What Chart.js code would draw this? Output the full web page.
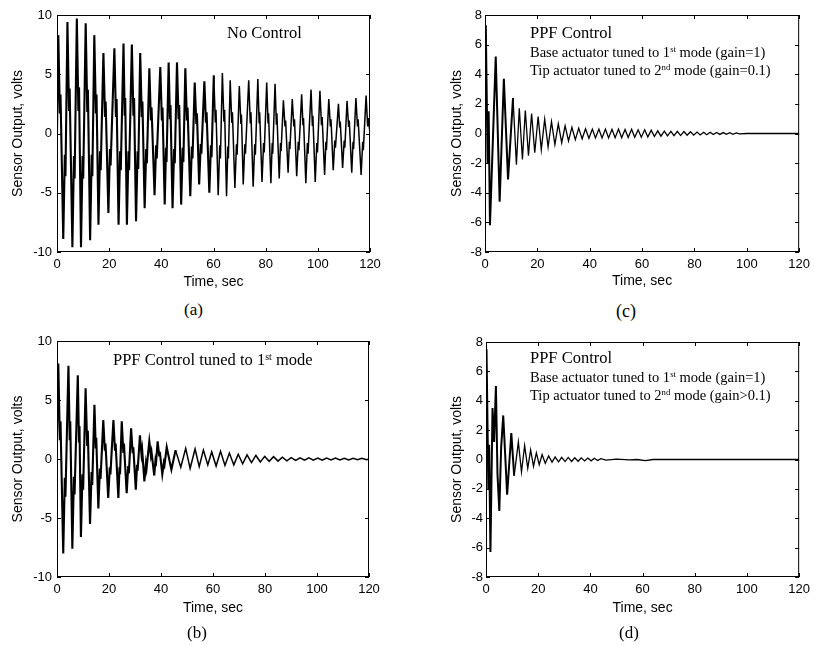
<!DOCTYPE html>
<html>
<head>
<meta charset="utf-8">
<script src="https://cdn.jsdelivr.net/npm/chart.js@4.4.1/dist/chart.umd.min.js"></script>
<style>
  body { margin: 0; background: #fff; }
  #wrap { position: relative; width: 815px; height: 645px; overflow: hidden; }
  canvas { position: absolute; }
  .note { position: absolute; font-family: "Liberation Serif", "Times New Roman", serif; color: #000; white-space: nowrap; line-height: 1; }
  .note sup { font-size: 0.6em; line-height: 0; vertical-align: 0.55em; }
</style>
</head>
<body>
<div id="wrap">
  <canvas id="chartA" width="410" height="300" style="left:0;top:0"></canvas>
  <canvas id="chartB" width="410" height="300" style="left:0;top:326px"></canvas>
  <canvas id="chartC" width="395" height="300" style="left:420px;top:0"></canvas>
  <canvas id="chartD" width="395" height="300" style="left:420px;top:327px"></canvas>

  <div class="note" style="left:227px;top:25px;font-size:16.5px">No Control</div>
  <div class="note" style="left:113px;top:352px;font-size:16.5px">PPF Control tuned to 1<sup>st</sup> mode</div>

  <div class="note" style="left:530px;top:25px;font-size:16.5px">PPF Control</div>
  <div class="note" style="left:530px;top:45px;font-size:14.5px">Base actuator tuned to 1<sup>st</sup> mode (gain=1)</div>
  <div class="note" style="left:530px;top:63px;font-size:14.5px">Tip actuator tuned to 2<sup>nd</sup> mode (gain=0.1)</div>

  <div class="note" style="left:530px;top:350px;font-size:16.5px">PPF Control</div>
  <div class="note" style="left:530px;top:370px;font-size:14.5px">Base actuator tuned to 1<sup>st</sup> mode (gain=1)</div>
  <div class="note" style="left:530px;top:388px;font-size:14.5px">Tip actuator tuned to 2<sup>nd</sup> mode (gain&gt;0.1)</div>

  <div class="note" style="left:184px;top:301px;font-size:17px">(a)</div>
  <div class="note" style="left:187px;top:624px;font-size:17px">(b)</div>
  <div class="note" style="left:616px;top:302px;font-size:18px">(c)</div>
  <div class="note" style="left:619px;top:624px;font-size:17px">(d)</div>
</div>
<script>
// (a) no control: peaks and troughs
const aTime = [0, 0.5, 2.4, 4.0, 5.9, 7.6, 9.2, 11.0, 12.7, 14.3, 15.9, 17.8, 19.7, 22.0, 23.6, 25.5, 26.8, 28.7, 30.3, 31.9,
  33.6, 35.4, 37.4, 39.6, 41.3, 42.8, 44.3, 46.0, 47.6, 49.2, 51.1, 52.8, 54.5, 56.5, 58.4, 60.1, 61.8, 63.4, 65.0, 66.4,
  68.2, 69.9, 71.4, 73.5, 75.2, 77.0, 78.6, 80.4, 82.0, 83.6, 85.2, 86.8, 88.6, 90.2, 91.9, 93.8, 95.4, 97.4, 99.0, 100.8,
  102.6, 104.2, 105.9, 107.9, 109.5, 111.2, 113.0, 114.6, 116.6, 118.5, 120];
const aVolt = [0, 8.3, -8.9, 9.4, -9.6, 9.7, -9.6, 9.3, -9.0, 8.3, -7.7, 6.8, -6.7, 7.2, -7.7, 7.6, -7.7, 7.5, -7.4, 6.8,
  -6.3, 5.5, -5.2, 5.6, -6.0, 6.0, -6.3, 6.0, -6.0, 5.5, -5.3, 4.3, -4.3, 4.4, -5.0, 4.9, -5.2, 5.1, -5.3, 4.5,
  -4.6, 4.0, -4.3, 4.5, -4.5, 4.6, -4.1, 4.3, -4.2, 4.2, -3.8, 2.8, -3.3, 2.9, -3.6, 3.3, -4.2, 3.7, -4.1, 3.6,
  -3.5, 2.9, -3.1, 2.5, -2.9, 2.75, -3.3, 3.0, -3.5, 3.2, 0];
// (a) small second-mode kinks between the swings
const aKneeTime = [1.1, 1.35, 3.0, 3.25, 4.6, 4.85, 6.5, 6.75, 8.2, 8.45, 9.8, 10.05, 11.6, 11.85, 13.3, 13.55, 14.9, 15.15,
  16.5, 16.75, 18.4, 18.65, 20.3, 20.55, 22.6, 22.85, 24.2, 24.45, 25.95, 26.15, 27.4, 27.65, 29.3, 29.55, 30.9, 31.15,
  32.5, 32.75, 34.2, 34.45, 36.0, 36.25, 38.0, 38.25, 40.2, 40.45, 41.8, 42.0, 43.3, 43.5, 44.9, 45.15, 46.6, 46.85,
  48.2, 48.45, 49.8, 50.05, 51.7, 51.95, 53.4, 53.65, 55.1, 55.35, 57.1, 57.35, 59.0, 59.25, 60.7, 60.95, 62.4, 62.65,
  64.0, 64.25, 65.5, 65.7, 67.0, 67.25, 68.8, 69.05, 70.5, 70.7, 72.0, 72.25, 74.1, 74.35, 75.8, 76.05, 77.5, 77.7,
  79.2, 79.45, 80.9, 81.1, 82.5, 82.7, 84.1, 84.3, 85.7, 85.9, 87.4, 87.65, 89.1, 89.3, 90.8, 91.05, 92.5, 92.75,
  94.3, 94.5, 96.0, 96.25, 97.9, 98.1, 99.6, 99.85, 101.4, 101.65, 103.1, 103.3, 104.8, 105.05, 106.5, 106.75,
  108.4, 108.6, 110.1, 110.35, 111.8, 112.05, 113.5, 113.7, 115.2, 115.45, 117.2, 117.45, 119.1, 119.35];
const aKneeVolt = [1.7, 3.3, -1.8, -3.6, 1.9, 3.8, -1.9, -3.8, 1.9, 3.9, -1.9, -3.8, 1.9, 3.7, -1.8, -3.6, 1.7, 3.3,
  -1.5, -3.1, 1.4, 2.7, -1.3, -2.7, 1.4, 2.9, -1.5, -3.1, 1.5, 3.0, -1.5, -3.1, 1.5, 3.0, -1.5, -3.0,
  1.4, 2.7, -1.3, -2.5, 1.1, 2.2, -1.0, -2.1, 1.1, 2.2, -1.2, -2.4, 1.2, 2.4, -1.3, -2.5, 1.2, 2.4,
  -1.2, -2.4, 1.1, 2.2, -1.1, -2.1, 0.9, 1.7, -0.9, -1.7, 0.9, 1.8, -1.0, -2.0, 1.0, 2.0, -1.0, -2.1,
  1.0, 2.0, -1.1, -2.1, 0.9, 1.8, -0.9, -1.8, 0.8, 1.6, -0.9, -1.7, 0.9, 1.8, -0.9, -1.8, 0.9, 1.8,
  -0.8, -1.6, 0.9, 1.7, -0.8, -1.7, 0.8, 1.7, -0.8, -1.5, 0.6, 1.1, -0.7, -1.3, 0.6, 1.2, -0.7, -1.4,
  0.7, 1.3, -0.8, -1.7, 0.7, 1.5, -0.8, -1.6, 0.7, 1.4, -0.7, -1.4, 0.6, 1.2, -0.6, -1.2,
  0.5, 1.0, -0.6, -1.2, 0.55, 1.1, -0.7, -1.3, 0.6, 1.2, -0.7, -1.4, 0.6, 1.3];

// (b) PPF tuned to 1st mode
const bTime = [0, 0.5, 2.4, 4.4, 5.9, 8.0, 9.2, 11.0, 12.7, 14.4, 15.9, 17.8, 19.7, 21.7, 23.6, 24.9, 26.8, 28.5, 30.3, 31.9,
  33.6, 35.5, 37.4, 38.7, 40.5, 42.2, 44.0, 45.6, 47.6, 49.5, 51.2, 53.1, 54.7, 56.3, 58.0, 59.5, 61.2, 62.9, 64.6, 66.3,
  68.0, 69.7, 71.4, 73.1, 74.8, 76.5, 78.2, 79.9, 81.6, 83.3, 85.0, 86.7, 88.4, 90.1, 91.8, 93.5, 95.2, 96.9, 98.6, 100.3,
  102.0, 103.7, 105.4, 107.1, 108.8, 110.5, 112.2, 113.9, 115.6, 117.3, 119.0, 120];
const bVolt = [2.0, 8.1, -8.0, 7.9, -7.6, 7.1, -6.6, 6.0, -5.5, 4.6, -4.2, 3.3, -3.3, 3.3, -3.3, 3.2, -2.9, 2.6, -2.6, 2.0,
  -1.9, 1.5, -1.4, 1.5, -1.3, 1.0, -0.9, 0.75, -0.7, 0.9, -0.8, 0.85, -0.65, 0.75, -0.5, 0.6, -0.6, 0.65, -0.55, 0.5,
  -0.5, 0.4, -0.4, 0.35, -0.3, 0.3, -0.25, 0.22, -0.2, 0.2, -0.18, 0.15, -0.15, 0.12, -0.12, 0.1, -0.1, 0.1, -0.1, 0.08,
  -0.1, 0.08, -0.08, 0.08, -0.08, 0.06, -0.08, 0.06, -0.06, 0.06, -0.06, 0];
const bKneeTime = [1.1, 1.35, 3.0, 3.25, 4.9, 5.1, 6.5, 6.75, 8.45, 8.65, 9.8, 10.05, 11.6, 11.85, 13.3, 13.55, 14.9, 15.1,
  16.5, 16.75, 18.4, 18.65, 20.3, 20.55, 22.3, 22.55, 24.05, 24.25, 25.5, 25.75, 27.4, 27.65, 29.1, 29.35, 30.8, 31.0,
  32.5, 32.75, 34.2, 34.45, 36.1, 36.35, 37.8, 38.0, 39.3, 39.55, 41.1, 41.35];
const bKneeVolt = [1.6, 3.2, -1.6, -3.2, 1.6, 3.2, -1.5, -3.0, 1.4, 2.8, -1.3, -2.6, 1.2, 2.4, -1.1, -2.2, 0.9, 1.8,
  -0.8, -1.7, 0.7, 1.3, -0.7, -1.3, 0.7, 1.3, -0.7, -1.3, 0.6, 1.3, -0.6, -1.2, 0.5, 1.0, -0.5, -1.0,
  0.4, 0.8, -0.4, -0.8, 0.3, 0.6, -0.3, -0.6, 0.3, 0.6, -0.3, -0.5];

// (c) base 1st mode gain=1, tip 2nd mode gain=0.1
const cTime = [0, 0.3, 1.0, 1.4, 1.9, 3.0, 4.1, 5.6, 7.2, 8.8, 10.7, 12.0, 13.1, 14.3, 15.4, 16.6, 17.8, 19.0, 20.3, 21.5,
  22.8, 24.1, 25.4, 26.7, 28.0, 29.3, 30.6, 31.9, 33.2, 34.5, 35.8, 37.1, 38.4, 39.7, 41.0, 42.2, 43.5, 44.7, 46.0, 47.2,
  48.5, 49.7, 51.0, 52.2, 53.5, 54.7, 56.0, 57.2, 58.5, 59.7, 61.0, 62.2, 63.5, 64.7, 66.0, 67.2, 68.5, 69.7, 71.0, 72.2,
  73.5, 74.7, 76.0, 77.2, 78.5, 79.7, 81.0, 82.2, 83.5, 84.7, 86.0, 87.2, 88.5, 89.7, 91.0, 92.2, 93.5, 94.7, 96.0, 97.2,
  100, 120];
const cVolt = [3.0, 7.3, -2.0, 1.5, -6.2, -0.5, 5.2, -4.6, 3.7, -3.1, 2.4, -2.1, 1.7, -1.75, 1.55, -1.5, 1.35, -1.3, 1.15, -1.1,
  0.97, -0.9, 0.8, -0.75, 0.65, -0.62, 0.52, -0.5, 0.42, -0.42, 0.36, -0.36, 0.32, -0.32, 0.3, -0.3, 0.3, -0.3, 0.3, -0.3,
  0.28, -0.28, 0.3, -0.28, 0.27, -0.27, 0.28, -0.26, 0.25, -0.25, 0.25, -0.23, 0.22, -0.2, 0.18, -0.18, 0.16, -0.16, 0.15, -0.15,
  0.14, -0.14, 0.13, -0.12, 0.12, -0.11, 0.1, -0.1, 0.08, -0.08, 0.08, -0.07, 0.07, -0.06, 0.06, -0.06, 0.05, -0.05, 0.04, -0.03,
  0, 0];

// (d) base 1st mode gain=1, tip 2nd mode gain>0.1
const dTime = [0, 0.2, 0.9, 1.2, 1.7, 2.5, 3.1, 3.8, 4.4, 5.1, 5.8, 6.6, 7.3, 8.1, 9.7, 10.8, 12.4, 13.6, 14.8, 16.0,
  17.1, 18.2, 19.3, 20.4, 21.5, 22.7, 24.0, 25.3, 26.5, 27.8, 29.0, 30.3, 31.5, 32.8, 34.0, 35.3, 36.5, 37.8, 39.0, 40.3,
  41.5, 42.8, 44.0, 46.0, 50.0, 55.0, 58.0, 61.0, 64.0, 120];
const dVolt = [2.0, 7.5, -2.0, 1.0, -6.3, 3.5, 1.2, 5.0, -1.0, -3.5, 0.8, 3.0, 0.5, -2.4, 1.8, -1.1, 1.2, -0.85, 0.95, -0.6,
  0.65, -0.46, 0.45, -0.35, 0.33, -0.26, 0.24, -0.18, 0.17, -0.16, 0.15, -0.14, 0.14, -0.13, 0.12, -0.12, 0.11, -0.1, 0.1, -0.09,
  0.08, -0.07, 0.06, -0.04, 0.02, -0.02, 0, -0.08, 0, 0];

const xTicks = [0, 20, 40, 60, 80, 100, 120];
const ticks10 = [-10, -5, 0, 5, 10];
const ticks8 = [-8, -6, -4, -2, 0, 2, 4, 6, 8];

const sans = { family: '"Liberation Sans", Arial, sans-serif', size: 13 };
const titleFont = { family: '"Liberation Sans", Arial, sans-serif', size: 14 };

const toPoints = (times, volts) => times.map((t, i) => ({ x: t, y: volts[i] }));

// main swings plus the kinks, in time order
const mergeSeries = (times, volts, kTimes = [], kVolts = []) =>
  toPoints(times, volts).concat(toPoints(kTimes, kVolts)).sort((p, q) => p.x - q.x);

// box round the plot with inward tick marks on all four sides
const framePlugin = {
  id: 'frame',
  afterDatasetsDraw(chart) {
    const { ctx, chartArea: { left, top, right, bottom }, scales: { x, y } } = chart;
    ctx.save();
    ctx.strokeStyle = '#000';
    ctx.lineWidth = 1;
    ctx.strokeRect(left + 0.5, top + 0.5, right - left - 1, bottom - top - 1);
    ctx.beginPath();
    x.ticks.forEach((t) => {
      const px = Math.round(x.getPixelForValue(t.value)) + 0.5;
      ctx.moveTo(px, bottom); ctx.lineTo(px, bottom - 4);
      ctx.moveTo(px, top); ctx.lineTo(px, top + 4);
    });
    y.ticks.forEach((t) => {
      const py = Math.round(y.getPixelForValue(t.value)) + 0.5;
      ctx.moveTo(left, py); ctx.lineTo(left + 4, py);
      ctx.moveTo(right, py); ctx.lineTo(right - 4, py);
    });
    ctx.stroke();
    ctx.restore();
  },
};

const drawPanel = (id, points, opt) => {
  new Chart(document.getElementById(id), {
    type: 'line',
    data: {
      datasets: [{
        data: points,
        borderColor: '#000',
        borderWidth: opt.lineWidth,
        pointRadius: 0,
        tension: 0,
        fill: false,
        // early part of the record is drawn heavier, as in the scan
        segment: { borderWidth: c => (c.p0.parsed.x < opt.thickUntil ? opt.thickWidth : opt.lineWidth) },
      }],
    },
    options: {
      responsive: false,
      animation: false,
      layout: { padding: { left: 0, top: opt.top, right: opt.right, bottom: opt.bottom } },
      plugins: { legend: { display: false }, tooltip: { enabled: false } },
      scales: {
        x: {
          type: 'linear',
          min: 0,
          max: 120,
          afterBuildTicks: (scale) => { scale.ticks = xTicks.map(v => ({ value: v })); },
          ticks: { padding: 5, font: sans, color: '#000', maxRotation: 0 },
          grid: { display: false, drawTicks: false },
          border: { display: false },
          title: { display: true, text: 'Time, sec', font: titleFont, color: '#000', padding: { top: 0, bottom: opt.xTitlePad } },
          afterFit: (scale) => { scale.height = 40; },
        },
        y: {
          type: 'linear',
          min: opt.yMin,
          max: opt.yMax,
          afterBuildTicks: (scale) => { scale.ticks = opt.yTicks.map(v => ({ value: v })); },
          ticks: { padding: opt.yTickPad, font: sans, color: '#000' },
          grid: { display: false, drawTicks: false },
          border: { display: false },
          title: { display: true, text: 'Sensor Output, volts', font: titleFont, color: '#000', padding: { top: opt.yTitlePad, bottom: 0 } },
          afterFit: (scale) => { scale.width = opt.yWidth; },
        },
      },
    },
    plugins: [framePlugin],
  });
};

drawPanel('chartA', mergeSeries(aTime, aVolt, aKneeTime, aKneeVolt), {
  lineWidth: 1.5, thickWidth: 2.1, thickUntil: 60, top: 15, right: 40, bottom: 8,
  yWidth: 57, yTitlePad: 9.6, yTickPad: 5, xTitlePad: 1, yMin: -10, yMax: 10, yTicks: ticks10,
});
drawPanel('chartB', mergeSeries(bTime, bVolt, bKneeTime, bKneeVolt), {
  lineWidth: 1.5, thickWidth: 2.1, thickUntil: 45, top: 15, right: 41, bottom: 9,
  yWidth: 57, yTitlePad: 9.6, yTickPad: 5, xTitlePad: 0, yMin: -10, yMax: 10, yTicks: ticks10,
});
drawPanel('chartC', mergeSeries(cTime, cVolt), {
  lineWidth: 1.3, thickWidth: 2, thickUntil: 10, top: 15, right: 15, bottom: 8,
  yWidth: 65, yTitlePad: 28.6, yTickPad: 3, xTitlePad: 2.6, yMin: -8, yMax: 8, yTicks: ticks8,
});
drawPanel('chartD', mergeSeries(dTime, dVolt), {
  lineWidth: 1.3, thickWidth: 2, thickUntil: 10, top: 15, right: 14, bottom: 10,
  yWidth: 66, yTitlePad: 28.6, yTickPad: 3, xTitlePad: 0, yMin: -8, yMax: 8, yTicks: ticks8,
});
</script>
</body>
</html>
